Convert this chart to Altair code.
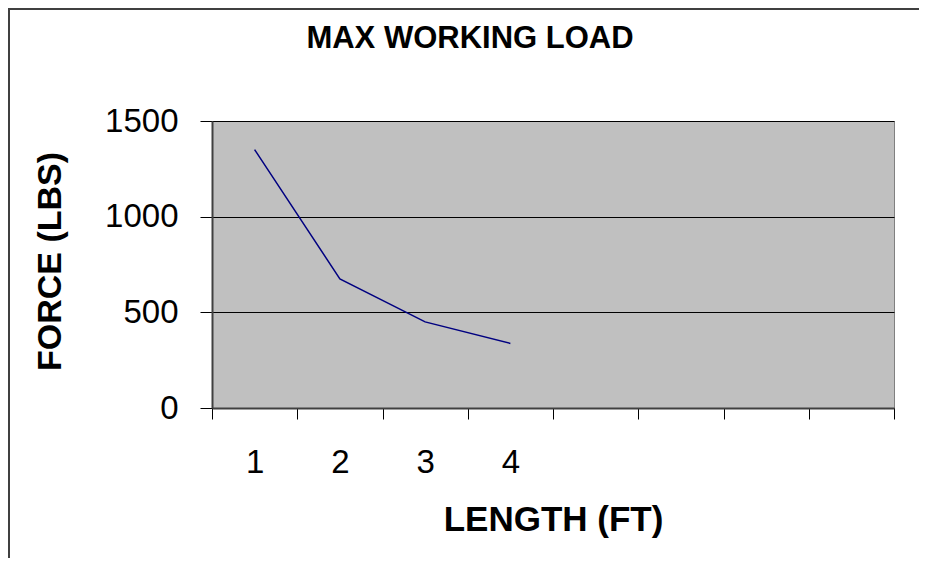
import altair as alt
import pandas as pd

# data
lengths = [1, 2, 3, 4]
forces = [1350, 675, 450, 337.5]
slots = [1, 2, 3, 4, 5, 6, 7, 8]
y_ticks = [0, 500, 1000, 1500]
chart_title = "MAX WORKING LOAD"
x_title = "LENGTH (FT)"
y_title = "FORCE (LBS)"

df = pd.DataFrame({"length": lengths, "force": forces})
FONT = "Liberation Sans"

x_enc = alt.X(
    "length:O",
    bandPosition=0.5,
    scale=alt.Scale(type="band", domain=slots, paddingInner=0, paddingOuter=0),
    axis=alt.Axis(
        title=x_title,
        labelExpr="datum.value <= 4 ? datum.label : ''",
        labelAngle=0,
        tickBand="extent",
        grid=False,
        domainColor="#404040",
        domainWidth=2,
        tickColor="#000000",
        tickSize=11,
        labelFont=FONT,
        labelFontSize=33,
        labelColor="#000000",
        labelPadding=27,
        titleFont=FONT,
        titleFontSize=35,
        titleFontWeight="bold",
        titleColor="#000000",
        titleX=341,
        titleY=111,
        titleAlign="center",
        titleBaseline="middle",
    ),
)

y_enc = alt.Y(
    "force:Q",
    scale=alt.Scale(domain=[0, 1500], nice=False),
    axis=alt.Axis(
        title=y_title,
        values=y_ticks,
        format="d",
        grid=True,
        gridColor="#000000",
        gridWidth=1,
        domainColor="#404040",
        domainWidth=2,
        tickColor="#000000",
        tickSize=12,
        labelFont=FONT,
        labelFontSize=33,
        labelColor="#000000",
        labelPadding=22,
        titleFont=FONT,
        titleFontSize=34,
        titleFontWeight="bold",
        titleColor="#000000",
        titleAngle=-90,
        titleX=-162,
        titleY=140,
        titleAlign="center",
        titleBaseline="middle",
    ),
)

line = alt.Chart(df).mark_line(color="#000080", strokeWidth=1.5).encode(x=x_enc, y=y_enc)

one = pd.DataFrame({"t": [chart_title]})

title_mark = alt.Chart(one).mark_text(
    font=FONT, fontSize=31, fontWeight="bold", color="#000000",
    align="center", baseline="middle"
).encode(text="t:N", x=alt.value(258), y=alt.value(-82))

left_border = alt.Chart(one).mark_rule(color="#404040", strokeWidth=2).encode(
    x=alt.value(-203), y=alt.value(-113), y2=alt.value(480)
)
top_border = alt.Chart(one).mark_rule(color="#404040", strokeWidth=2).encode(
    x=alt.value(-204), x2=alt.value(760), y=alt.value(-112), y2=alt.value(-112)
)

chart = alt.layer(left_border, top_border, line, title_mark).properties(
    width=682,
    height=287,
    autosize=alt.AutoSizeParams(type="none"),
    padding={"left": 204, "top": 113, "right": 25, "bottom": 150},
    background="#FFFFFF",
).configure_view(fill="#C0C0C0", stroke="#808080", strokeWidth=1)

chart.save("out.html", embed_options={"renderer": "svg", "actions": False})
